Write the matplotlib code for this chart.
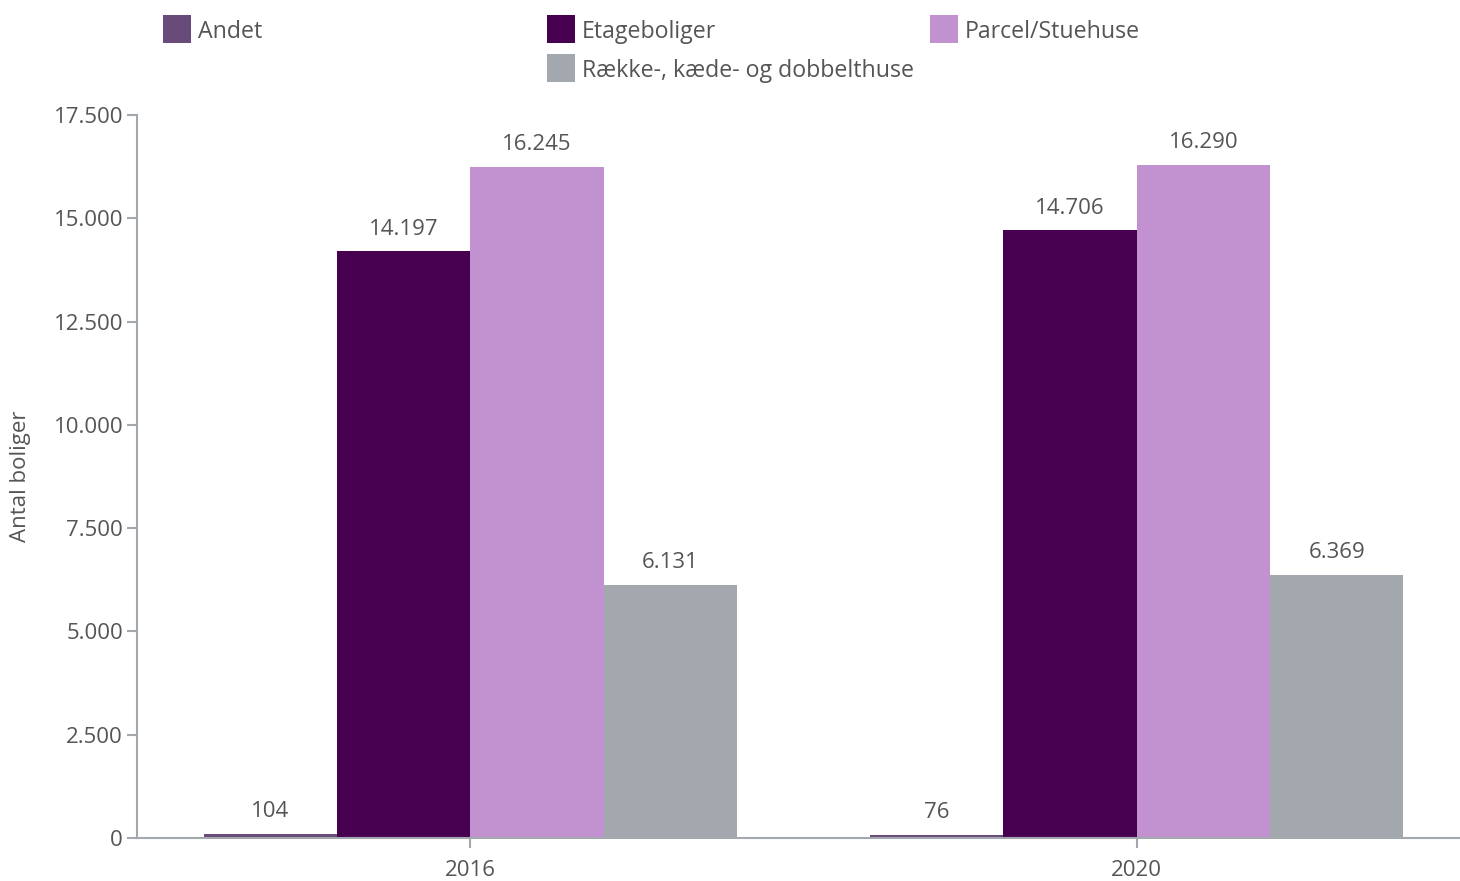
import numpy as np
import matplotlib.pyplot as plt
from matplotlib.patches import Rectangle
from matplotlib.ticker import FuncFormatter

plt.rcParams['font.family'] = ['Open Sans', 'DejaVu Sans']

# data
years = ['2016', '2020']
series = ['Andet', 'Etageboliger', 'Parcel/Stuehuse', 'Række-, kæde- og dobbelthuse']
andet = [104, 76]
etage = [14197, 14706]
parcel = [16245, 16290]
raekke = [6131, 6369]
colors = ['#684b7b', '#470050', '#c291cf', '#a2a8ae']

grey = '#a3a8ae'
txt = '#555555'

fig = plt.figure(figsize=(14.6, 8.81), dpi=100)
ax = fig.add_axes([137 / 1460, 43 / 881, 1333 / 1460, 723 / 881])

x = np.arange(len(years))
w = 0.2
values = [andet, etage, parcel, raekke]
for i, vals in enumerate(values):
    pos = x + (i - 1.5) * w
    ax.bar(pos, vals, width=w, color=colors[i], linewidth=0)
    for p, v in zip(pos, vals):
        ax.annotate(f'{v:,}'.replace(',', '.'), (p, v), xytext=(0, 16),
                    textcoords='offset points', ha='center', va='center',
                    fontsize=16, color=txt)

ax.set_xlim(-0.5, 1.5)
ax.set_ylim(0, 17500)
ax.set_yticks(np.arange(0, 17501, 2500))
ax.yaxis.set_major_formatter(FuncFormatter(lambda v, _: f'{int(v):,}'.replace(',', '.')))
ax.set_xticks(x)
ax.set_xticklabels(years)

for s in ['top', 'right']:
    ax.spines[s].set_visible(False)
for s in ['left', 'bottom']:
    ax.spines[s].set_color(grey)
    ax.spines[s].set_linewidth(1.5)
ax.tick_params(axis='both', colors=grey, labelcolor=txt, labelsize=16,
               width=1.5, length=7)
ax.tick_params(axis='y', pad=3)
ax.tick_params(axis='x', pad=9)
ax.set_ylabel('Antal boliger', fontsize=16, color=txt)
ax.yaxis.set_label_coords(-0.0795, 0.5)

# legend drawn by hand (row 2 sits under column 2)
leg_pos = [(163, 29), (547, 29), (930, 29), (547, 68)]
for (px, py), name, c in zip(leg_pos, series, colors):
    fig.patches.append(Rectangle((px / 1460, 1 - (py + 14) / 881), 28 / 1460, 28 / 881,
                                 transform=fig.transFigure, color=c, linewidth=0))
    fig.text((px + 35) / 1460, 1 - (py + 3) / 881, name, fontsize=16.7, color=txt,
             va='center', ha='left')

fig.savefig('out.png', dpi=100)
